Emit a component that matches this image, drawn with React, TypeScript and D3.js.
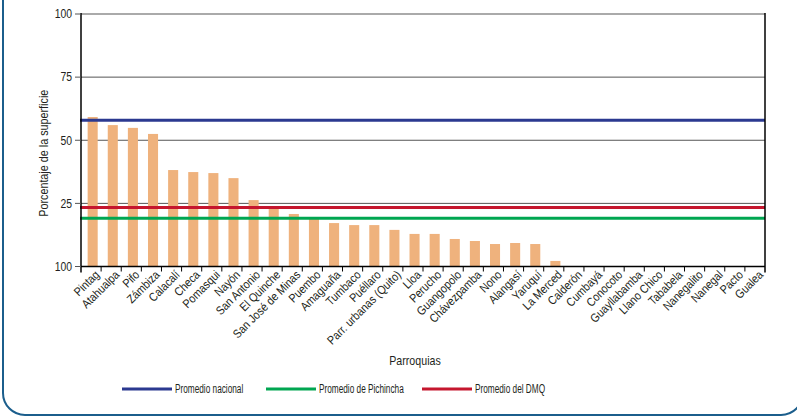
import React, { useEffect, useRef } from 'react';
import * as d3 from 'd3';

// parroquias ordered as in the source chart
const parroquias = [
  'Pintag', 'Atahualpa', 'Pifo', 'Zámbiza', 'Calacalí', 'Checa', 'Pomasqui', 'Nayón',
  'San Antonio', 'El Quinche', 'San José de Minas', 'Puembo', 'Amaguaña', 'Tumbaco',
  'Puéllaro', 'Parr. urbanas (Quito)', 'Lloa', 'Perucho', 'Guangopolo', 'Chávezpamba',
  'Nono', 'Alangasí', 'Yaruquí', 'La Merced', 'Calderón', 'Cumbayá', 'Conocoto',
  'Guayllabamba', 'Llano Chico', 'Tababela', 'Nanegalito', 'Nanegal', 'Pacto', 'Gualea'
];

const porcentajes = [
  59.2, 56.0, 54.9, 52.5, 38.2, 37.4, 37.0, 35.0,
  26.3, 23.6, 20.8, 19.6, 17.2, 16.4,
  16.4, 14.5, 12.9, 12.9, 10.9, 10.1,
  8.9, 9.3, 8.9, 2.2, 0, 0, 0,
  0, 0, 0, 0, 0, 0, 0
];

const yTickValues = [0, 25, 50, 75, 100];
const yTickLabels = ['100', '25', '50', '75', '100'];

const promedios = [
  { name: 'Promedio nacional', value: 57.9, color: '#2b3990' },
  { name: 'Promedio de Pichincha', value: 19.1, color: '#00a651' },
  { name: 'Promedio del DMQ', value: 23.4, color: '#c5162e' }
];

const App: React.FC = () => {
  const ref = useRef<SVGSVGElement | null>(null);

  useEffect(() => {
    const width = 797, height = 416;
    const left = 81, right = 765, top = 14, bottom = 266.5;
    const font = "'Liberation Sans', Arial, sans-serif";

    const svg = d3.select(ref.current)
      .attr('width', width)
      .attr('height', height);
    svg.selectAll('*').remove();

    // condensed-looking text: squeeze horizontally
    const label = (tx: number, ty: number, rot: number, sx: number, size: number, txt: string, anchor = 'start', dy = '0.35em') =>
      svg.append('text')
        .attr('transform', `translate(${tx},${ty}) rotate(${rot}) scale(${sx},1)`)
        .attr('text-anchor', anchor)
        .attr('dy', dy)
        .style('font-family', font)
        .style('font-size', `${size}px`)
        .attr('fill', '#231f20')
        .text(txt);

    // outer rounded frame
    svg.append('rect')
      .attr('x', 3).attr('y', -30)
      .attr('width', 800).attr('height', 445)
      .attr('rx', 22)
      .attr('fill', 'none')
      .attr('stroke', '#1b5e8c')
      .attr('stroke-width', 2);

    const x = d3.scaleBand<string>()
      .domain(parroquias)
      .range([left, right])
      .padding(0);

    const y = d3.scaleLinear()
      .domain([0, 100])
      .range([bottom, top]);

    // grid lines
    [25, 50, 75].forEach(v => {
      svg.append('line')
        .attr('x1', left).attr('x2', right)
        .attr('y1', y(v)).attr('y2', y(v))
        .attr('stroke', '#555')
        .attr('stroke-width', 1);
    });
    svg.append('line')
      .attr('x1', left).attr('x2', right)
      .attr('y1', y(100)).attr('y2', y(100))
      .attr('stroke', '#aaa')
      .attr('stroke-width', 2);

    // bars
    const step = x.step();
    svg.append('g')
      .selectAll('rect')
      .data(porcentajes)
      .join('rect')
      .attr('x', (d, i) => (x(parroquias[i]) as number) + step * 0.33)
      .attr('width', step * 0.5)
      .attr('y', d => y(d))
      .attr('height', d => y(0) - y(d))
      .attr('fill', '#efb27d');

    // average lines
    promedios.forEach(p => {
      svg.append('line')
        .attr('x1', left - 1).attr('x2', right)
        .attr('y1', y(p.value)).attr('y2', y(p.value))
        .attr('stroke', p.color)
        .attr('stroke-width', 3);
    });

    // axes
    svg.append('line')
      .attr('x1', left).attr('x2', left)
      .attr('y1', top - 1).attr('y2', bottom + 6)
      .attr('stroke', '#000').attr('stroke-width', 1.5);
    svg.append('line')
      .attr('x1', right).attr('x2', right)
      .attr('y1', top - 1).attr('y2', bottom + 6)
      .attr('stroke', '#000').attr('stroke-width', 1.5);
    svg.append('line')
      .attr('x1', left).attr('x2', right)
      .attr('y1', bottom).attr('y2', bottom)
      .attr('stroke', '#000').attr('stroke-width', 1.5);

    // x ticks at band boundaries, labels rotated
    parroquias.forEach((p, i) => {
      const tx = (x(p) as number);
      if (i > 0) {
        svg.append('line')
          .attr('x1', tx).attr('x2', tx)
          .attr('y1', bottom).attr('y2', bottom + 5)
          .attr('stroke', '#000').attr('stroke-width', 1);
      }
      const cx = tx + step / 2;
      label(cx + 6, bottom + 6, -45, 0.88, 12, p, 'end');
    });

    // y ticks
    yTickValues.forEach((v, i) => {
      svg.append('line')
        .attr('x1', left - 6).attr('x2', left)
        .attr('y1', y(v)).attr('y2', y(v))
        .attr('stroke', '#555').attr('stroke-width', 1);
      label(left - 9, y(v), 0, 0.77, 13.5, yTickLabels[i], 'end', '0.32em');
    });

    // axis titles
    label(43, (top + bottom) / 2 + 13, -90, 0.83, 13, 'Porcentaje de la superficie', 'middle');
    label(415, 360, 0, 0.82, 13, 'Parroquias', 'middle');

    // legend
    const legendX = [122, 266, 422];
    promedios.forEach((p, i) => {
      svg.append('line')
        .attr('x1', legendX[i]).attr('x2', legendX[i] + 50)
        .attr('y1', 389).attr('y2', 389)
        .attr('stroke', p.color)
        .attr('stroke-width', 3);
      label(legendX[i] + 53, 389, 0, 0.66, 12.5, p.name);
    });
  }, []);

  return (
    <svg ref={ref} style={{ position: 'absolute', left: 0, top: 0, background: '#fff' }}></svg>
  );
};

export default App;
